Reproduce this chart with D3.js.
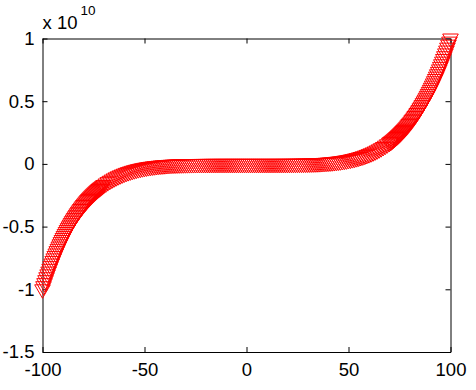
<!DOCTYPE html>
<html>
<head>
<meta charset="utf-8">
<script src="https://cdn.jsdelivr.net/npm/d3@7"></script>
<style>
  body { margin: 0; background: #fff; }
  svg text { font-family: Arial, "Liberation Sans", Helvetica, sans-serif; fill: #000; }
</style>
</head>
<body>
<div id="chart"></div>
<script>
// Tick labels
const xTicks = [-100, -50, 0, 50, 100];
const yTicks = [-1.5, -1, -0.5, 0, 0.5, 1];
const yExponent = "10";

// Sample positions along x
const xValues = [
  -100, -99.5, -99, -98.5, -98, -97.5, -97, -96.5, -96, -95.5, -95, -94.5, -94, -93.5, -93, -92.5,
  -92, -91.5, -91, -90.5, -90, -89.5, -89, -88.5, -88, -87.5, -87, -86.5, -86, -85.5, -85, -84.5,
  -84, -83.5, -83, -82.5, -82, -81.5, -81, -80.5, -80, -79.5, -79, -78.5, -78, -77.5, -77, -76.5,
  -76, -75.5, -75, -74.5, -74, -73.5, -73, -72.5, -72, -71.5, -71, -70.5, -70,
  -69, -68, -67, -66, -65, -64, -63, -62, -61, -60, -59, -58, -57, -56, -55, -54, -53, -52, -51, -50,
  -49, -48, -47, -46, -45, -44, -43, -42, -41, -40, -39, -38, -37, -36, -35, -34, -33, -32, -31, -30,
  -29, -28, -27, -26, -25, -24, -23, -22, -21, -20, -19, -18, -17, -16, -15, -14, -13, -12, -11, -10,
  -9, -8, -7, -6, -5, -4, -3, -2, -1, 0,
  1, 2, 3, 4, 5, 6, 7, 8, 9, 10, 11, 12, 13, 14, 15, 16, 17, 18, 19, 20,
  21, 22, 23, 24, 25, 26, 27, 28, 29, 30, 31, 32, 33, 34, 35, 36, 37, 38, 39, 40,
  41, 42, 43, 44, 45, 46, 47, 48, 49, 50, 51, 52, 53, 54, 55, 56, 57, 58, 59, 60,
  61, 62, 63, 64, 65, 66, 67, 68, 69, 70,
  70.5, 71, 71.5, 72, 72.5, 73, 73.5, 74, 74.5, 75, 75.5, 76, 76.5, 77, 77.5, 78, 78.5, 79, 79.5, 80,
  80.5, 81, 81.5, 82, 82.5, 83, 83.5, 84, 84.5, 85, 85.5, 86, 86.5, 87, 87.5, 88, 88.5, 89, 89.5, 90,
  90.5, 91, 91.5, 92, 92.5, 93, 93.5, 94, 94.5, 95, 95.5, 96, 96.5, 97, 97.5, 98, 98.5, 99, 99.5, 100
];

// Values in units of 10^10
const yValues = [
  -1, -0.9752, -0.9510, -0.9272, -0.9039, -0.8811, -0.8587, -0.8368, -0.8154, -0.7944, -0.7738, -0.7536, -0.7339, -0.7146, -0.6957, -0.6772,
  -0.6591, -0.6414, -0.6240, -0.6071, -0.5905, -0.5743, -0.5584, -0.5429, -0.5277, -0.5129, -0.4984, -0.4843, -0.4704, -0.4569, -0.4437, -0.4308,
  -0.4182, -0.4059, -0.3939, -0.3822, -0.3707, -0.3596, -0.3487, -0.3380, -0.3277, -0.3176, -0.3077, -0.2981, -0.2887, -0.2796, -0.2707, -0.2620,
  -0.2536, -0.2453, -0.2373, -0.2295, -0.2219, -0.2145, -0.2073, -0.2003, -0.1935, -0.1869, -0.1804, -0.1742, -0.1681,
  -0.1564, -0.1454, -0.1350, -0.1252, -0.1160, -0.1074, -0.0992, -0.0916, -0.0845, -0.0778, -0.0715, -0.0656, -0.0602, -0.0551, -0.0503, -0.0459, -0.0418, -0.0380, -0.0345, -0.0313,
  -0.0282, -0.0255, -0.0229, -0.0206, -0.0185, -0.0165, -0.0147, -0.0131, -0.0116, -0.0102, -0.0090, -0.0079, -0.0069, -0.0060, -0.0053, -0.0045, -0.0039, -0.0034, -0.0029, -0.0024,
  -0.0021, -0.0017, -0.0014, -0.0012, -0.0010, -0.0008, -0.0006, -0.0005, -0.0004, -0.0003, -0.0002, -0.0002, -0.0001, -0.0001, -0.0001, -0.0001, 0, 0, 0, 0,
  0, 0, 0, 0, 0, 0, 0, 0, 0, 0,
  0, 0, 0, 0, 0, 0, 0, 0, 0, 0, 0, 0, 0, 0.0001, 0.0001, 0.0001, 0.0001, 0.0002, 0.0002, 0.0003,
  0.0004, 0.0005, 0.0006, 0.0008, 0.0010, 0.0012, 0.0014, 0.0017, 0.0021, 0.0024, 0.0029, 0.0034, 0.0039, 0.0045, 0.0053, 0.0060, 0.0069, 0.0079, 0.0090, 0.0102,
  0.0116, 0.0131, 0.0147, 0.0165, 0.0185, 0.0206, 0.0229, 0.0255, 0.0282, 0.0313, 0.0345, 0.0380, 0.0418, 0.0459, 0.0503, 0.0551, 0.0602, 0.0656, 0.0715, 0.0778,
  0.0845, 0.0916, 0.0992, 0.1074, 0.1160, 0.1252, 0.1350, 0.1454, 0.1564, 0.1681,
  0.1742, 0.1804, 0.1869, 0.1935, 0.2003, 0.2073, 0.2145, 0.2219, 0.2295, 0.2373, 0.2453, 0.2536, 0.2620, 0.2707, 0.2796, 0.2887, 0.2981, 0.3077, 0.3176, 0.3277,
  0.3380, 0.3487, 0.3596, 0.3707, 0.3822, 0.3939, 0.4059, 0.4182, 0.4308, 0.4437, 0.4569, 0.4704, 0.4843, 0.4984, 0.5129, 0.5277, 0.5429, 0.5584, 0.5743, 0.5905,
  0.6071, 0.6240, 0.6414, 0.6591, 0.6772, 0.6957, 0.7146, 0.7339, 0.7536, 0.7738, 0.7944, 0.8154, 0.8368, 0.8587, 0.8811, 0.9039, 0.9272, 0.9510, 0.9752, 1
];

const width = 476;
const height = 390;
const plot = { left: 42.5, right: 450.5, top: 38.5, bottom: 352 };
const fontSize = 18.5;
const tickLen = 5;

const x = d3.scaleLinear().domain([-100, 100]).range([plot.left, plot.right]);
const y = d3.scaleLinear().domain([-1.5, 1]).range([plot.bottom, plot.top]);

const svg = d3.select("#chart").append("svg")
    .attr("width", width)
    .attr("height", height);

// Axes (ticks pointing inwards on all four sides)
const fmt = d => String(d);

svg.append("g")
    .attr("transform", `translate(0,${plot.bottom})`)
    .call(d3.axisBottom(x).tickValues(xTicks).tickSize(-tickLen).tickSizeOuter(0).tickPadding(11).tickFormat(fmt));

svg.append("g")
    .attr("transform", `translate(0,${plot.top})`)
    .call(d3.axisTop(x).tickValues(xTicks).tickSize(-tickLen).tickSizeOuter(0).tickFormat(""));

svg.append("g")
    .attr("transform", `translate(${plot.left},0)`)
    .call(d3.axisLeft(y).tickValues(yTicks).tickSize(-tickLen).tickSizeOuter(0).tickPadding(8).tickFormat(fmt));

svg.append("g")
    .attr("transform", `translate(${plot.right},0)`)
    .call(d3.axisRight(y).tickValues(yTicks).tickSize(-tickLen).tickSizeOuter(0).tickFormat(""));

svg.selectAll(".domain, .tick line")
    .attr("stroke", "#000")
    .attr("stroke-width", 1);

svg.selectAll(".tick text")
    .style("font-size", fontSize + "px")
    .attr("fill", "#000");

// Exponent label above the y axis
const expo = svg.append("text")
    .attr("x", plot.left)
    .attr("y", 29)
    .style("font-size", fontSize + "px");
expo.append("tspan").text("x 10");
expo.append("tspan")
    .attr("dx", 3)
    .attr("dy", -14)
    .style("font-size", "13.5px")
    .text(yExponent);

// Markers: open downward triangles
const tri = "M0,9L-7.8,-4.5L7.8,-4.5Z";
svg.append("g")
    .selectAll("path")
    .data(xValues.map((v, i) => [v, yValues[i]]))
    .join("path")
    .attr("d", tri)
    .attr("transform", d => `translate(${x(d[0])},${y(d[1])})`)
    .attr("fill", "none")
    .attr("stroke", "#ff0000")
    .attr("stroke-width", 1);
</script>
</body>
</html>
